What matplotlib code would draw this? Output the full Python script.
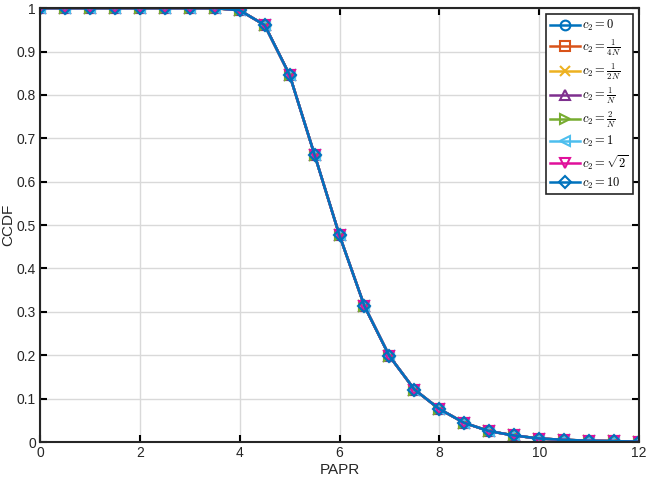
import numpy as np
import matplotlib
matplotlib.use("Agg")
import matplotlib.pyplot as plt

plt.rcParams['font.family'] = ['Liberation Sans', 'DejaVu Sans']
plt.rcParams['mathtext.fontset'] = 'cm'

# PAPR grid and CCDF values (all c2 cases overlap)
papr = np.arange(0, 12.5, 0.5)
ccdf = [1.0, 1.0, 1.0, 1.0, 1.0, 1.0, 1.0, 1.0, 0.995, 0.961, 0.846, 0.662,
        0.476, 0.313, 0.198, 0.121, 0.076, 0.044, 0.025, 0.015, 0.008,
        0.005, 0.003, 0.002, 0.001]

labels = [r'$c_2=0$', r'$c_2=\frac{1}{4N}$', r'$c_2=\frac{1}{2N}$',
          r'$c_2=\frac{1}{N}$', r'$c_2=\frac{2}{N}$', r'$c_2=1$',
          r'$c_2=\sqrt{2}$', r'$c_2=10$']
colors = ['#0072BD', '#D95319', '#EDB120', '#7E2F8E', '#77AC30',
          '#4DBEEE', '#E0109B', '#0072BD']
markers = ['o', 's', 'x', '^', '>', '<', 'v', 'D']

fig = plt.figure(figsize=(6.48, 4.78), dpi=100)
ax = fig.add_axes([0.0617, 0.0753, 0.9245, 0.9077])

for lab, col, mk in zip(labels, colors, markers):
    ax.plot(papr, ccdf, color=col, marker=mk, markersize=7 if mk != 'D' else 6,
            markerfacecolor='none', markeredgewidth=1.5, linewidth=1.8, label=lab)

ax.set_xlim(0, 12)
ax.set_ylim(0, 1)
ax.set_xticks(np.arange(0, 13, 2))
ax.set_yticks(np.arange(0, 1.01, 0.1))
ax.set_yticklabels(['0', '0.1', '0.2', '0.3', '0.4', '0.5', '0.6', '0.7', '0.8', '0.9', '1'])
ax.grid(True, color='#d9d9d9', linewidth=1)
ax.set_axisbelow(True)
ax.tick_params(direction='in', top=True, right=True, length=5, width=1.5,
               labelsize=10, labelcolor='#262626', pad=3)
for s in ax.spines.values():
    s.set_linewidth(1.5)
    s.set_color('#262626')
ax.set_xlabel('PAPR', fontsize=11, labelpad=2, color='#262626')
ax.set_ylabel('CCDF', fontsize=11, labelpad=1, color='#262626')

leg = ax.legend(loc='upper right', fontsize=9, fancybox=False, framealpha=1,
                edgecolor='#262626', handlelength=2.4, borderpad=0.3,
                labelspacing=0.3, handletextpad=0.2, borderaxespad=0.5)
leg.get_frame().set_linewidth(1.2)

fig.savefig('out.png', dpi=100)
